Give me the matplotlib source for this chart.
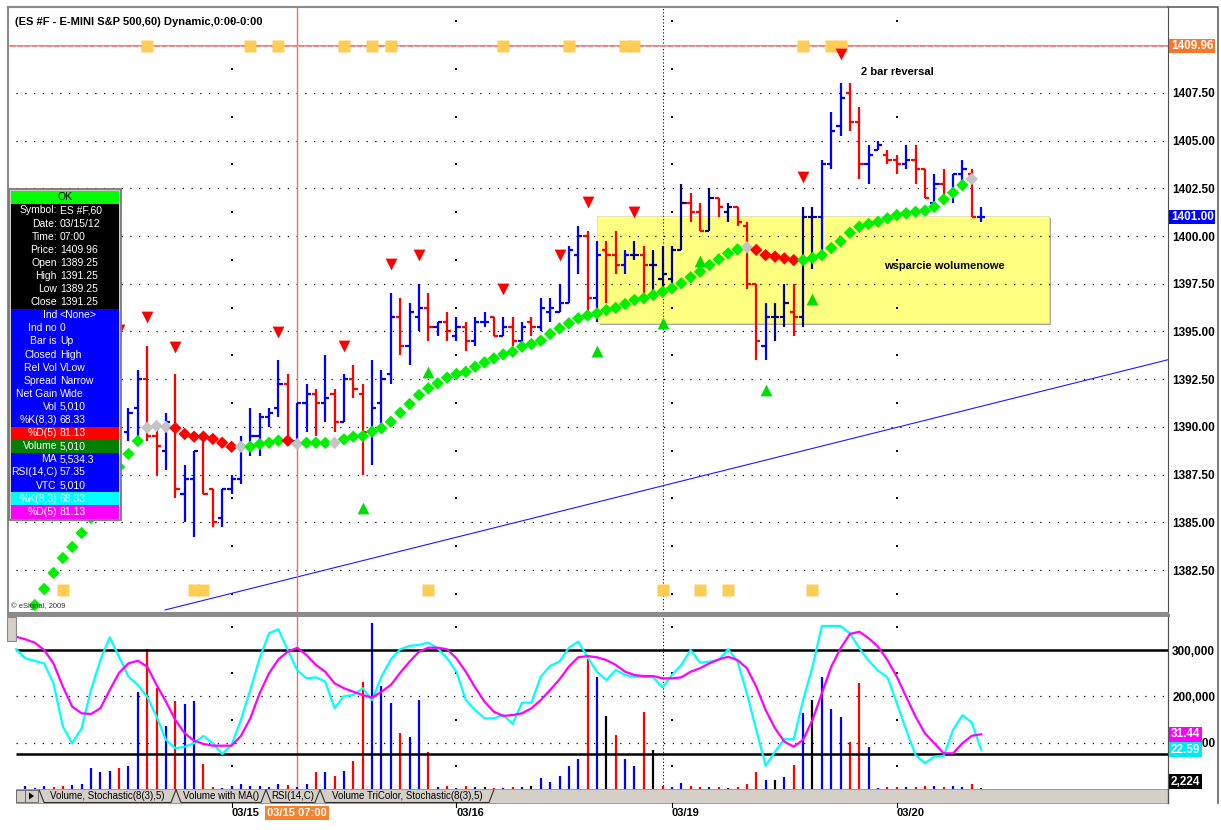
import matplotlib.pyplot as plt
import matplotlib.transforms as mtransforms
from matplotlib.patches import Rectangle, Polygon
import numpy as np

plt.rcParams['font.family'] = ['Liberation Sans', 'DejaVu Sans']

W, H = 1221, 830

# ---------------- price bars (ES #F, 60 min), bars 11..102 (0..10 sit under the info box)
bar_no = list(range(11, 103))
opens = [1389.75, 1391.0, 1392.5, 1389.5, 1388.75, 1390.0, 1386.5, 1387.25, 1389.5, 1386.75,
         1385.25, 1386.75, 1387.25, 1389.0, 1389.5, 1390.5, 1391.0, 1392.25, 1389.25, 1391.25,
         1391.75, 1391.25, 1391.75, 1390.25, 1392.5, 1391.75, 1389.75, 1391.25, 1392.75, 1395.75,
         1394.25, 1395.75, 1396.25, 1395.25, 1395.5, 1394.75, 1395.25, 1394.5, 1395.5, 1395.75,
         1394.75, 1395.25, 1394.5, 1395.5, 1395.25, 1396.0, 1396.0, 1396.5, 1399.0, 1400.0,
         1396.75, 1399.25, 1399.0, 1398.5, 1399.0, 1399.0, 1398.5, 1397.75, 1397.75, 1399.25,
         1401.75, 1401.25, 1400.25, 1402.0, 1401.25, 1401.5, 1400.5, 1397.5, 1394.25, 1395.75,
         1395.75, 1396.0, 1395.75, 1401.0, 1401.0, 1403.75, 1405.75, 1407.5, 1406.0, 1403.75,
         1404.5, 1404.25, 1404.0, 1403.75, 1404.0, 1403.5, 1401.75, 1402.75, 1402.25, 1403.25,
         1403.25, 1401.0]
highs = [1391.0, 1393.0, 1394.25, 1390.25, 1390.75, 1392.75, 1388.0, 1388.75, 1389.5, 1386.75,
         1386.75, 1387.5, 1389.5, 1391.0, 1390.75, 1391.0, 1393.5, 1392.75, 1391.25, 1392.25,
         1392.0, 1393.75, 1392.0, 1392.75, 1393.25, 1392.25, 1393.5, 1393.0, 1397.0, 1396.75,
         1396.5, 1397.5, 1397.0, 1395.5, 1396.0, 1395.75, 1395.5, 1395.75, 1396.0, 1395.75,
         1395.75, 1395.75, 1395.5, 1395.75, 1396.75, 1396.75, 1397.5, 1399.5, 1400.5, 1400.25,
         1399.75, 1399.75, 1400.25, 1399.25, 1399.75, 1399.5, 1399.25, 1399.5, 1399.5, 1402.75,
         1402.25, 1401.75, 1402.5, 1402.0, 1401.75, 1401.5, 1400.75, 1397.5, 1396.5, 1396.5,
         1397.5, 1397.5, 1401.5, 1401.5, 1404.0, 1406.5, 1408.0, 1408.0, 1406.75, 1404.75,
         1405.0, 1404.5, 1404.25, 1404.75, 1404.75, 1403.5, 1403.25, 1403.5, 1403.25, 1404.0,
         1403.5, 1401.5]
lows = [1389.25, 1389.25, 1389.25, 1387.5, 1387.75, 1386.25, 1385.0, 1384.25, 1386.5, 1384.75,
        1384.75, 1386.5, 1387.0, 1388.5, 1388.5, 1390.0, 1390.5, 1389.25, 1389.25, 1389.75,
        1389.5, 1390.25, 1389.75, 1390.25, 1391.5, 1387.5, 1388.0, 1389.75, 1392.25, 1393.75,
        1393.25, 1395.0, 1394.5, 1394.75, 1394.5, 1394.5, 1394.0, 1394.25, 1395.25, 1394.75,
        1394.75, 1394.25, 1394.25, 1394.75, 1395.0, 1395.5, 1396.0, 1396.5, 1398.0, 1396.0,
        1395.5, 1396.5, 1398.0, 1398.0, 1398.75, 1396.5, 1397.0, 1397.0, 1397.5, 1399.25,
        1400.75, 1400.25, 1400.25, 1401.0, 1400.75, 1400.5, 1397.25, 1393.5, 1393.5, 1394.5,
        1395.25, 1394.75, 1395.25, 1398.25, 1399.0, 1403.5, 1405.25, 1405.5, 1403.0, 1402.75,
        1404.5, 1403.75, 1403.25, 1403.5, 1402.75, 1402.0, 1401.5, 1402.0, 1401.75, 1402.5,
        1401.0, 1400.75]
closes = [1390.75, 1392.5, 1389.5, 1389.0, 1390.25, 1386.75, 1387.25, 1388.75, 1386.5, 1385.0,
          1386.75, 1387.25, 1389.0, 1389.5, 1390.5, 1390.75, 1392.25, 1389.25, 1391.25, 1391.75,
          1391.25, 1391.5, 1390.25, 1392.5, 1392.0, 1389.75, 1391.0, 1392.5, 1395.75, 1394.25,
          1396.0, 1396.25, 1395.25, 1395.5, 1395.0, 1395.25, 1394.5, 1395.5, 1395.5, 1394.75,
          1395.25, 1394.5, 1395.25, 1395.25, 1396.25, 1396.25, 1396.5, 1399.25, 1400.0, 1396.75,
          1399.0, 1399.0, 1398.5, 1399.0, 1399.0, 1398.5, 1398.5, 1398.0, 1399.25, 1401.75,
          1401.25, 1400.25, 1402.0, 1401.5, 1401.5, 1400.75, 1397.5, 1394.5, 1395.75, 1395.75,
          1396.5, 1395.75, 1401.0, 1401.0, 1403.75, 1405.5, 1407.25, 1406.0, 1403.75, 1404.25,
          1404.75, 1404.0, 1403.75, 1404.0, 1403.5, 1402.0, 1402.75, 1402.0, 1403.25, 1403.5,
          1401.0, 1401.0]
bar_kind = ("bbrrbrbbrr" "bbbbbbbrbb" "rbrbrrbbbr" "bbrbrbrbbr" "brbrbbbbbr"
            "brrbnrnnnn" "rrnrnrrrbn" "nrnnbbbrrb" "brrbrrbrbb" "rb")

# trailing stop diamonds, bars 1..101 (8 and 9 hidden behind the box)
dia_no = list(range(1, 102))
dia_val = [1380.67, 1381.51, 1382.35, 1383.13, 1383.71, 1384.44, 1385.23, np.nan, np.nan, 1387.9,
           1388.58, 1389.26, 1389.96, 1390.05, 1390.0, 1389.94, 1389.63, 1389.49, 1389.49, 1389.37,
           1389.17, 1388.96, 1388.96, 1388.96, 1389.1, 1389.17, 1389.28, 1389.28, 1389.1, 1389.17,
           1389.17, 1389.16, 1389.16, 1389.35, 1389.49, 1389.52, 1389.75, 1389.93, 1390.27, 1390.74,
           1391.2, 1391.67, 1392.02, 1392.28, 1392.58, 1392.77, 1392.89, 1393.15, 1393.38, 1393.59,
           1393.8, 1393.94, 1394.2, 1394.34, 1394.52, 1394.87, 1395.16, 1395.43, 1395.69, 1395.84,
           1395.95, 1396.12, 1396.24, 1396.44, 1396.65, 1396.74, 1396.91, 1397.08, 1397.26, 1397.52,
           1397.84, 1398.13, 1398.48, 1398.78, 1399.09, 1399.3, 1399.41, 1399.27, 1399.0, 1398.92,
           1398.83, 1398.74, 1398.74, 1398.85, 1399.0, 1399.37, 1399.72, 1400.17, 1400.49, 1400.63,
           1400.75, 1400.93, 1401.1, 1401.19, 1401.27, 1401.33, 1401.53, 1401.92, 1402.27, 1402.67,
           1402.99]
dia_gray = [13, 14, 15, 23, 29, 33, 77, 101]
dia_red = [16, 17, 18, 19, 20, 21, 22, 28, 78, 79, 80, 81, 82]

sell_bars = [10, 13, 16, 27, 34, 39, 42, 51, 57, 60, 65, 83, 87]
sell_px = [1395.08, 1395.74, 1394.2, 1394.99, 1394.24, 1398.52, 1399.0, 1397.21, 1399.0, 1401.8,
           1401.27, 1403.07, 1409.53]
buy_bars = [36, 43, 61, 68, 72, 79, 84]
buy_px = [1385.75, 1392.89, 1393.98, 1395.46, 1398.71, 1391.93, 1396.68]

top_sq_bars = [13, 24, 27, 34, 37, 39, 51, 58, 64, 65, 83, 86, 87]
bot_sq_bars = [4, 18, 19, 43, 68, 72, 75, 84]
last_price = 1409.96
bot_sq_px = 1381.45

trend_bars = [14.9, 121.94]
trend_px = [1380.41, 1393.52]
zone_bars = (61.0, 109.2)
zone_px = (1395.45, 1401.05)

price_ticks = [1382.5, 1385.0, 1387.5, 1390.0, 1392.5, 1395.0, 1397.5, 1400.0, 1402.5, 1405.0, 1407.5]
day_bars = [22, 46, 69, 93]
day_labels = ['03/15', '03/16', '03/19', '03/20']
cursor_bar = 29
marker_bar = 68

# ---------------- lower pane: volume (thousands) and stochastic, bars 0..102 / -1..102
vol_k = [6.5, 3, 6.5, 5, 6.5, 8.7, 10.9, 45, 37.7, 39,
         46.4, 50.7, 209, 302, 219, 137, 191, 183, 191, 54,
         3.6, 3, 6.5, 10, 7, 6.5, 3.6, 10, 8, 5.01,
         10, 36, 36, 28, 39, 61, 231, 359, 222, 185,
         122, 113, 192, 80, 3.6, 6.5, 3, 6.5, 3.6, 3.6,
         3, 1.5, 3.6, 3.6, 7, 24.6, 16, 29, 50.7, 65,
         280, 241, 157, 117, 64.5, 50.7, 167, 85, 7, 3.6,
         13.8, 6.5, 3.6, 3.6, 3.6, 1.5, 3.6, 10, 37.7, 19.6,
         19.6, 25.4, 52, 165, 193, 242, 173, 156, 101, 230,
         90, 1.5, 3.6, 3.6, 3.6, 3.6, 6.5, 6.5, 3.6, 6.5,
         3.6, 10, 2.224]
vol_kind = ("bbbrrbbbbb" "rbbrrbrbbr" "rbbbbbbbrb" "brbrbrrbbb" "rbbrbrbrbk"
            "rbrbkbbbbb" "rbkrbbrkrb" "brrbrkrrrb" "kbrbkbbbrr" "bbrrbrrbrb" "brk")
stoch_k = [80.3, 75.1, 73.6, 72.2, 60.7, 35.8, 26.3, 34.9, 56.9, 74.1,
           87.2, 76, 64.5, 59.8, 53, 41.6, 28.2, 23.4, 24.3, 26.3,
           30.5, 26.3, 20.1, 25.3, 39.7, 56.9, 75.1, 89.5, 91.8, 79.9,
           68.33, 63.6, 64.2, 61.7, 46.4, 53.4, 54, 57.9, 51.1, 64.5,
           74.5, 80.3, 82.2, 82.8, 84.1, 80.9, 75.1, 67.4, 51.1, 45.4,
           40.6, 40.6, 42.5, 37.4, 49.6, 49.6, 64.5, 70.7, 73.2, 81.2,
           84.7, 75.7, 67.4, 62.6, 68.4, 65.5, 64.5, 64.5, 64.2, 58.4,
           65.5, 71.3, 79.9, 72.6, 73.2, 74.1, 80.3, 73.2, 55, 33.9,
           13.4, 21.4, 28.6, 28.6, 51.1, 70.3, 93.7, 93.7, 93.7, 89.5,
           80.9, 73.7, 68, 64.2, 49.3, 33.9, 19.5, 14.8, 18.6, 19,
           33.9, 42.5, 38.1, 22.59]
stoch_d = [87.5, 86, 84.1, 79.9, 72.2, 58.8, 47.3, 43.5, 43.1, 46.4,
           56.9, 66.8, 72.2, 73.7, 70.3, 59.8, 50.2, 39.7, 32, 27.8,
           25.9, 24.9, 24.9, 24.9, 30.5, 40.6, 55, 66.5, 74.5, 78.9,
           81.13, 77, 71.3, 67.4, 60.7, 57.9, 55.9, 54, 52.5, 55.9,
           59.8, 66.8, 73.2, 78.9, 81.2, 81.2, 80.3, 75.1, 67.4, 58.4,
           50.2, 44.4, 42, 42.5, 43.5, 46.4, 51.1, 56.9, 63, 70.3,
           75.7, 76.4, 75.7, 74.1, 71.3, 67.4, 65.5, 64.9, 64.9, 63.6,
           63.6, 64.2, 67.4, 69.4, 72.2, 74.5, 76, 74.1, 69.4, 58.8,
           45.4, 34.9, 27.2, 24.3, 28.2, 39.7, 55, 70.3, 80.9, 89.1,
           90.4, 86.6, 81.8, 74.1, 64.5, 53, 41.6, 32, 26.3, 20.5,
           20.5, 26.3, 30.6, 31.44]

info_rows = [("OK", "", '#00ff00'),
             ("Symbol:", "ES #F,60", 'black'), ("Date:", "03/15/12", 'black'),
             ("Time:", "07:00", 'black'), ("Price:", "1409.96", 'black'),
             ("Open", "1389.25", 'black'), ("High", "1391.25", 'black'),
             ("Low", "1389.25", 'black'), ("Close", "1391.25", 'black'),
             ("Ind", "<None>", '#0000ff'), ("Ind no", "0", '#0000ff'),
             ("Bar is", "Up", '#0000ff'), ("Closed", "High", '#0000ff'),
             ("Rel Vol", "VLow", '#0000ff'), ("Spread", "Narrow", '#0000ff'),
             ("Net Gain", "Wide", '#0000ff'), ("Vol", "5,010", '#0000ff'),
             ("%K(8,3)", "68.33", '#0000ff'), ("%D(5)", "81.13", '#ff0000'),
             ("Volume", "5,010", '#008000'), ("MA", "5,534.3", '#0000ff'),
             ("RSI(14,C)", "57.35", '#0000ff'), ("VTC", "5,010", '#0000ff'),
             ("%K(8,3)", "68.33", '#00ffff'), ("%D(5)", "81.13", '#ff00ff')]
tabs = ['Volume, Stochastic(8(3),5)', 'Volume with MA()', 'RSI(14,C)',
        'Volume TriColor, Stochastic(8(3),5)']

kind_col = {'b': '#0000ff', 'r': '#ff0000', 'n': '#000080', 'k': '#000000'}

# ---------------- figure
fig = plt.figure(figsize=(W / 100, H / 100), dpi=100)
XL, XR = 8 / W, 1168 / W
ax = fig.add_axes([XL, 1 - 613 / H, XR - XL, 606 / H])
axv = fig.add_axes([XL, 1 - 789 / H, XR - XL, 174 / H])
axs = axv.twinx()

xlim = (-1.857, 121.94)
for a in (ax, axv, axs):
    a.set_xlim(*xlim)
    a.set_xticks([])
ax.set_ylim(1380.25, 1412.0)

# grid
ax.hlines(price_ticks, -1, xlim[1], colors='black', lw=0.9, linestyles=(0, (1, 6)), zorder=1)
mid_levels = np.arange(1381.25, 1412, 2.5)
for d in day_bars:
    ax.scatter([d] * len(mid_levels), mid_levels, s=1.2, marker='s', color='black', lw=0, zorder=1)

# support zone
ax.add_patch(Rectangle((zone_bars[0] + 0.3, zone_px[0] - 0.12), zone_bars[1] - zone_bars[0],
                       zone_px[1] - zone_px[0], fc='#a8a8a8', ec='none', zorder=0.6))
ax.add_patch(Rectangle((zone_bars[0], zone_px[0]), zone_bars[1] - zone_bars[0],
                       zone_px[1] - zone_px[0], fc='#ffff80', ec='#dcdcb0', lw=0.6, zorder=0.7))

# last price line and trend line
ax.axhline(last_price, color='#ff7070', lw=1.3, zorder=2)
ax.axhline(last_price, color='#aee8e8', lw=1.0, ls=(0, (1.2, 4)), zorder=2.1)
ax.plot(trend_bars, trend_px, color='#1a1aff', lw=0.8, zorder=2)

# cursor + marker lines
for a in (ax, axv):
    a.axvline(cursor_bar, color='#f26a6a', lw=1.0, zorder=2)
    a.axvline(marker_bar, color='black', lw=0.8, ls=(0, (1, 2)), zorder=1.5)

# alert squares
ax.plot(top_sq_bars, [last_price] * len(top_sq_bars), 's', ms=8.3, color='#ffcc55', mec='none', zorder=3)
ax.plot(bot_sq_bars, [bot_sq_px] * len(bot_sq_bars), 's', ms=8.3, color='#ffcc55', mec='none', zorder=3)

# OHLC bars
bx = np.array(bar_no, dtype=float)
cols = [kind_col[c] for c in bar_kind]
ax.vlines(bx, lows, highs, colors=cols, lw=1.6, zorder=4)
ax.hlines(opens, bx - 0.45, bx, colors=cols, lw=1.6, zorder=4)
ax.hlines(closes, bx, bx + 0.45, colors=cols, lw=1.6, zorder=4)

# diamonds
dcols = ['#c4c4c4' if b in dia_gray else ('#ff0000' if b in dia_red else '#00f000') for b in dia_no]
ax.scatter(dia_no, dia_val, marker='D', s=40, c=dcols, lw=0, zorder=5)

# signal triangles
ax.scatter(sell_bars, sell_px, marker='v', s=72, color='#ff0000', lw=0, zorder=5)
ax.scatter(buy_bars, buy_px, marker='^', s=72, color='#00dd00', lw=0, zorder=5)

ax.text(93.1, 1408.59, '2 bar reversal', ha='center', va='center', fontsize=8, fontweight='bold', zorder=6)
ax.text(98.1, 1398.43, 'wsparcie wolumenowe', ha='center', va='center', fontsize=8,
        fontweight='bold', zorder=6)

# price scale
ax.yaxis.tick_right()
ax.set_yticks(price_ticks)
ax.set_yticklabels([f'{v:.2f}' for v in price_ticks])
ax.tick_params(axis='y', length=0, pad=3, labelsize=8.5)
for t in ax.get_yticklabels():
    t.set_fontweight('bold')
rtrans = mtransforms.blended_transform_factory(ax.transAxes, ax.transData)
ax.text(1.0025, last_price, f'{last_price:.2f}', transform=rtrans, ha='left', va='center',
        fontsize=8.5, fontweight='bold', color='white',
        bbox=dict(boxstyle='square,pad=0.12', fc='#f7782c', ec='none'))
ax.text(1.0025, closes[-1], f'{closes[-1]:.2f}', transform=rtrans, ha='left', va='center',
        fontsize=8.5, fontweight='bold', color='white',
        bbox=dict(boxstyle='square,pad=0.12', fc='#0000ff', ec='none'))

ax.text(0.006, 0.983, '(ES #F - E-MINI S&P 500,60) Dynamic,0:00-0:00', transform=ax.transAxes,
        ha='left', va='top', fontsize=8, fontweight='bold', zorder=6)

for s in ('left', 'top'):
    ax.spines[s].set_color('#8a8a8a')
    ax.spines[s].set_linewidth(1.5)
ax.spines['right'].set_color('#505050')
ax.spines['bottom'].set_color('#8a8a8a')
ax.spines['bottom'].set_linewidth(1.5)

# ---------------- volume / stochastic pane
vx = np.arange(0, len(vol_k))
vols = np.array(vol_k) * 1000
axv.set_ylim(0, 376000)
axs.set_ylim(0, 100)
axv.hlines([100000, 200000], -1, xlim[1], colors='black', lw=0.9, linestyles=(0, (1, 6)), zorder=1)
vmid = [50000, 150000, 250000, 350000]
for d in day_bars:
    axv.scatter([d] * len(vmid), vmid, s=1.2, marker='s', color='black', lw=0, zorder=1)
axv.vlines(vx, 0, vols, colors=[kind_col[c] for c in vol_kind], lw=1.6, zorder=3)

sx = np.arange(-1, len(stoch_k) - 1)
axs.hlines([20, 80], -1, xlim[1], colors='black', lw=1.8, zorder=1)
axs.plot(sx, stoch_k, color='#00ffff', lw=1.6, zorder=3)
axs.plot(sx, stoch_d, color='#ff00ff', lw=1.6, zorder=4)
axs.set_yticks([])

axv.yaxis.tick_right()
vt = [100000, 200000, 300000]
axv.set_yticks(vt)
axv.set_yticklabels([f'{v:,}' for v in vt])
axv.tick_params(axis='y', length=0, pad=3, labelsize=8.5)
for t in axv.get_yticklabels():
    t.set_fontweight('bold')
for a in (axv, axs):
    a.spines['left'].set_visible(False)
    a.spines['bottom'].set_visible(False)
    a.spines['top'].set_color('#8a8a8a')
    a.spines['top'].set_linewidth(2.0)
    a.spines['right'].set_color('#505050')

# value flags on the right scale (they sit over the 100,000 label as in the terminal)
strans = mtransforms.blended_transform_factory(axs.transAxes, axs.transData)
axs.text(1.0025, stoch_d[-1], f'{stoch_d[-1]:.2f}', transform=strans, ha='left', va='center',
         fontsize=8.5, fontweight='bold', color='white', zorder=10,
         bbox=dict(boxstyle='square,pad=0.12', fc='#ff00ff', ec='none'))
axs.text(1.0025, stoch_k[-1], f'{stoch_k[-1]:.2f}', transform=strans, ha='left', va='center',
         fontsize=8.5, fontweight='bold', color='white', zorder=10,
         bbox=dict(boxstyle='square,pad=0.12', fc='#00e8f0', ec='none'))
vtrans = mtransforms.blended_transform_factory(axv.transAxes, axv.transData)
axv.text(1.0025, 2500, f'{vols[-1]:,.0f}', transform=vtrans, ha='left', va='bottom',
         fontsize=8.5, fontweight='bold', color='white', zorder=10,
         bbox=dict(boxstyle='square,pad=0.12', fc='black', ec='none'))

# ---------------- window furniture in pixel units
ov = fig.add_axes([0, 0, 1, 1], zorder=20)
ov.set_xlim(0, W)
ov.set_ylim(H, 0)
ov.axis('off')
ov.patch.set_alpha(0)

# info box
rh = 13.1
ov.add_patch(Rectangle((9, 189), 112, len(info_rows) * rh + 3.5, fc='#d4d0c8', ec='#7a7a7a', lw=1.3))
for k, (lab, val, bg) in enumerate(info_rows):
    y0 = 190.8 + k * rh
    ov.add_patch(Rectangle((11, y0), 108, rh + 0.6, fc=bg, ec='none'))
    tc = 'black' if bg == '#00ff00' else 'white'
    if val == '':
        ov.text(65, y0 + rh / 2, lab, ha='center', va='center', color=tc, fontsize=7.5)
    else:
        ov.text(57, y0 + rh / 2, lab, ha='right', va='center', color=tc, fontsize=7.5)
        ov.text(60, y0 + rh / 2, val, ha='left', va='center', color=tc, fontsize=7.5)

ov.text(11, 606, '\u00a9 eSignal, 2009', ha='left', va='center', fontsize=5.5, color='#333333')

# right column frame
ov.plot([1168, 1218, 1218], [7, 7, 803], color='#606060', lw=1.2)
ov.plot([1168, 1168], [789, 803], color='#505050', lw=1)
ov.add_patch(Rectangle((7, 617), 9, 24, fc='#d4d0c8', ec='#8a8a8a', lw=0.8))

# tab strip
ov.add_patch(Rectangle((16, 789), 1152, 14, fc='#d4d0c8', ec='#909090', lw=0.6))
ov.add_patch(Rectangle((16, 790), 9, 12, fc='#d4d0c8', ec='#606060', lw=0.6))
ov.add_patch(Rectangle((25, 790), 13, 12, fc='#d4d0c8', ec='#606060', lw=0.6))
ov.add_patch(Polygon([(29, 792.5), (29, 799.5), (34, 796)], closed=True, fc='black', ec='none'))
tab_edges = [39, 176, 266, 320, 494]
for j, t in enumerate(tabs):
    x0, x1 = tab_edges[j], tab_edges[j + 1]
    ov.add_patch(Polygon([(x0, 789.5), (x0 + 5, 802.5), (x1 - 5, 802.5), (x1, 789.5)],
                         closed=False, fill=False, ec='#303030', lw=0.8))
    ov.text((x0 + x1) / 2, 796, t, ha='center', va='center', fontsize=7)

# date labels
dtrans = mtransforms.blended_transform_factory(axv.transData, ov.transData)
for d, lab in zip(day_bars, day_labels):
    ov.plot([d, d], [803, 807], color='black', lw=0.8, transform=dtrans)
    ov.text(d, 813, lab, ha='left', va='center', fontsize=8, fontweight='bold', transform=dtrans)
ov.text(cursor_bar, 813, '03/15 07:00', ha='center', va='center', fontsize=8, fontweight='bold',
        color='white', transform=dtrans,
        bbox=dict(boxstyle='square,pad=0.2', fc='#f5822f', ec='none'))

fig.savefig('out.png', dpi=100, facecolor='white')
